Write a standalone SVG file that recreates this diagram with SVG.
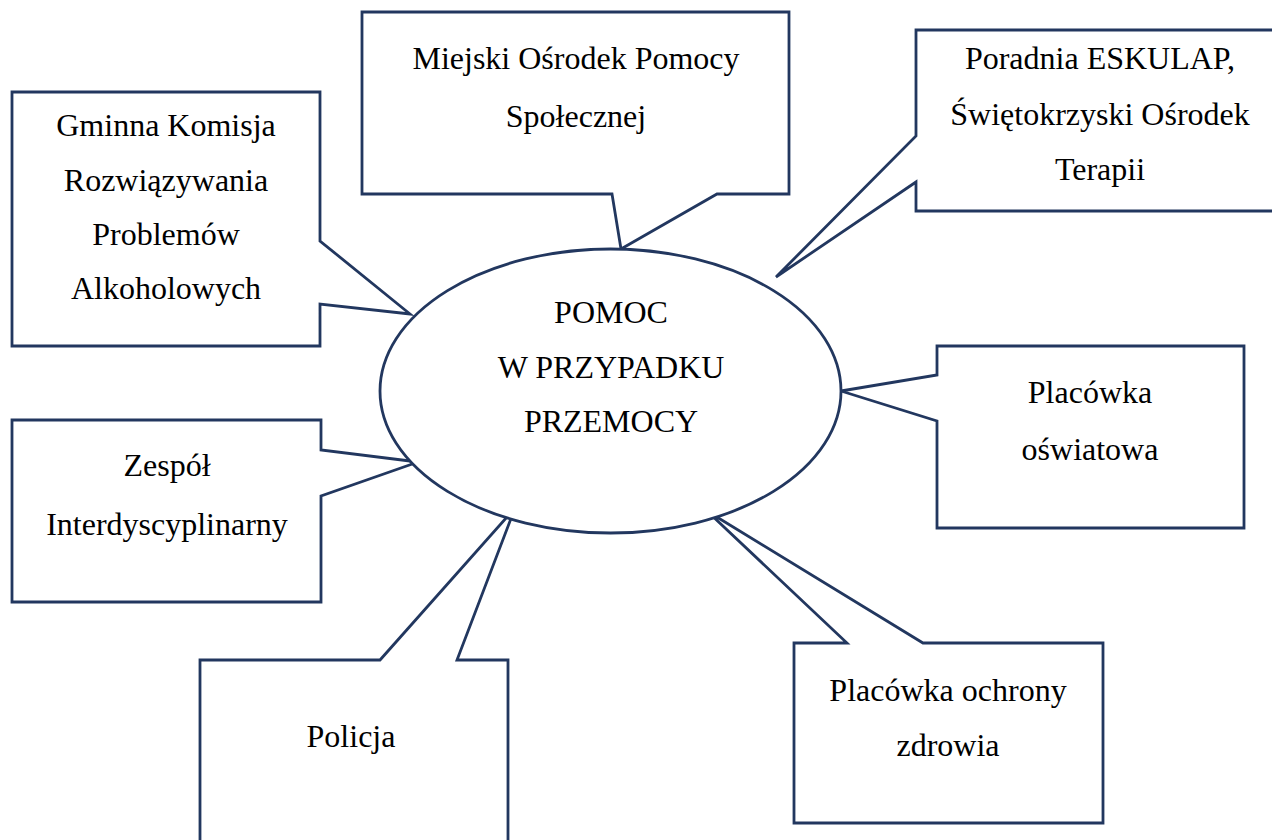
<svg xmlns="http://www.w3.org/2000/svg" width="1272" height="840" viewBox="0 0 1272 840">
<style>
.c{fill:#fff;stroke:#22375f;stroke-width:2.8;stroke-linejoin:miter}
text{font-family:"Liberation Serif","Times New Roman",serif;font-size:32px;fill:#000;text-anchor:middle}
</style>
<rect width="1272" height="840" fill="#fff"/>
<g id="connectors"></g>
<g id="gminna">
<path class="c" d="M12,92 H320 V241 L410,314 L320,304 V346 H12 Z"/>
<text x="166" y="136">Gminna Komisja</text>
<text x="166" y="191">Rozwiązywania</text>
<text x="166" y="245">Problemów</text>
<text x="166" y="299">Alkoholowych</text>
</g>
<g id="mops">
<path class="c" d="M362,12 H789 V194 H717 L621,249 L612,194 H362 Z"/>
<text x="576" y="69">Miejski Ośrodek Pomocy</text>
<text x="576" y="127">Społecznej</text>
</g>
<g id="poradnia">
<path class="c" d="M916,30 H1290 V211 H916 V182 L776,277 L916,136 Z"/>
<text x="1100" y="69">Poradnia ESKULAP,</text>
<text x="1100" y="125">Świętokrzyski Ośrodek</text>
<text x="1100" y="180">Terapii</text>
</g>
<g id="oswiatowa">
<path class="c" d="M937,346 H1244 V528 H937 V421 L841,391 L937,375 Z"/>
<text x="1090" y="403">Placówka</text>
<text x="1090" y="460">oświatowa</text>
</g>
<g id="zespol">
<path class="c" d="M12,420 H321 V450 L418,462 L321,496 V602 H12 Z"/>
<text x="167" y="476">Zespół</text>
<text x="167" y="535">Interdyscyplinarny</text>
</g>
<g id="policja">
<path class="c" d="M200,660 H380 L515,508 L457,660 H508 V860 H200 Z"/>
<text x="351" y="747">Policja</text>
</g>
<g id="ochrona">
<path class="c" d="M794,643 H847 L707,511 L923,643 H1103 V823 H794 Z"/>
<text x="948" y="701">Placówka ochrony</text>
<text x="948" y="756">zdrowia</text>
</g>
<g id="center">
<ellipse class="c" cx="610.5" cy="391" rx="230.5" ry="142"/>
<text x="611" y="323">POMOC</text>
<text x="611" y="378">W PRZYPADKU</text>
<text x="611" y="432">PRZEMOCY</text>
</g>
</svg>
